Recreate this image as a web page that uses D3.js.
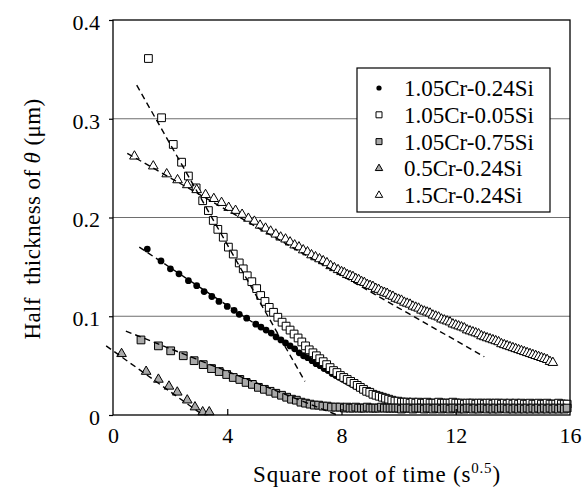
<!DOCTYPE html>
<html>
<head>
<meta charset="utf-8">
<script src="https://cdn.jsdelivr.net/npm/d3@7"></script>
<style>
  body { margin: 0; background: #fff; }
  svg { display: block; }
  text { font-family: "Liberation Serif", "Times New Roman", serif; fill: #000; }
</style>
</head>
<body>
<svg id="chart" width="588" height="493"></svg>
<script>
// ---- data: half thickness of cementite (µm) vs square root of time (s^0.5) ----
const xTickValues = [0, 4, 8, 12, 16];
const yTickValues = [0, 0.1, 0.2, 0.3, 0.4];
const yTickLabels = ["0", "0.1", "0.2", "0.3", "0.4"];
const gridValues = [0.1, 0.2, 0.3];

const seriesNames = ["1.05Cr-0.24Si", "1.05Cr-0.05Si", "1.05Cr-0.75Si", "0.5Cr-0.24Si", "1.5Cr-0.24Si"];

// 1.05Cr-0.24Si
const cr105si024 = [
  [1.20,0.168],[1.68,0.156],[2.01,0.148],[2.31,0.143],[2.64,0.136],[2.93,0.131],[3.19,0.125],[3.46,0.120],
  [3.71,0.115],[4.00,0.110],[4.24,0.106],[4.42,0.102],[4.68,0.098],[5.00,0.092],[5.18,0.089],[5.36,0.086],
  [5.54,0.083],[5.71,0.079],[5.88,0.076],[6.04,0.073],[6.20,0.070],[6.36,0.067],[6.52,0.063],[6.67,0.060],
  [6.82,0.058],[6.97,0.055],[7.11,0.052],[7.25,0.050],[7.39,0.047],[7.53,0.045],[7.67,0.042],[7.80,0.040],
  [7.93,0.038],[8.06,0.036],[8.19,0.034],[8.32,0.032],[8.45,0.030],[8.57,0.028],[8.69,0.026],[8.81,0.025],
  [8.93,0.023],[9.05,0.022],[9.17,0.020],[9.29,0.019],[9.41,0.018],[9.53,0.017],[9.65,0.016],[9.77,0.015],
  [9.89,0.015],[10.0,0.014],[10.1,0.014],[10.2,0.014],[10.3,0.013],[10.4,0.014],[10.5,0.013],[10.6,0.013],
  [10.7,0.013],[10.8,0.013],[10.9,0.012],[11.0,0.013],[11.1,0.013],[11.2,0.012],[11.3,0.013],[11.4,0.012],
  [11.5,0.012],[11.6,0.013],[11.7,0.012],[11.8,0.012],[11.9,0.012],[12.0,0.012],[12.1,0.013],[12.2,0.012],
  [12.3,0.012],[12.4,0.012],[12.5,0.011],[12.6,0.012],[12.7,0.012],[12.8,0.012],[12.9,0.011],[13.0,0.012],
  [13.1,0.012],[13.2,0.011],[13.3,0.012],[13.4,0.012],[13.5,0.011],[13.6,0.012],[13.7,0.011],[13.8,0.012],
  [13.9,0.011],[14.0,0.012],[14.1,0.011],[14.2,0.012],[14.3,0.011],[14.4,0.011],[14.5,0.012],[14.6,0.011],
  [14.7,0.011],[14.8,0.012],[14.9,0.011],[15.0,0.011],[15.1,0.012],[15.2,0.011],[15.3,0.011],[15.4,0.011],
  [15.5,0.012],[15.6,0.011],[15.7,0.011],[15.8,0.012],[15.9,0.010]
];

// 1.05Cr-0.05Si
const cr105si005 = [
  [1.24,0.361],[1.70,0.301],[2.11,0.274],[2.40,0.256],[2.64,0.242],[2.91,0.230],[3.14,0.217],[3.34,0.207],
  [3.51,0.197],[3.67,0.188],[3.86,0.180],[4.04,0.170],[4.21,0.163],[4.42,0.154],[4.56,0.148],[4.70,0.141],
  [4.86,0.135],[5.03,0.128],[5.17,0.121],[5.32,0.115],[5.47,0.109],[5.62,0.104],[5.77,0.099],[5.92,0.094],
  [6.06,0.090],[6.20,0.086],[6.34,0.082],[6.48,0.078],[6.61,0.074],[6.74,0.070],[6.87,0.066],[7.00,0.063],
  [7.12,0.060],[7.24,0.057],[7.36,0.054],[7.48,0.051],[7.60,0.048],[7.72,0.045],[7.84,0.043],[7.96,0.040],
  [8.08,0.038],[8.20,0.036],[8.32,0.034],[8.44,0.032],[8.55,0.030],[8.66,0.028],[8.77,0.026],[8.88,0.024],
  [8.99,0.023],[9.10,0.021],[9.21,0.020],[9.32,0.019],[9.43,0.018],[9.54,0.017],[9.65,0.016],[9.76,0.015],
  [9.87,0.014],[9.98,0.014],[10.1,0.013],[10.2,0.013],[10.3,0.013],[10.4,0.012],[10.5,0.013],[10.6,0.012],
  [10.7,0.013],[10.8,0.012],[10.9,0.012],[11.0,0.013],[11.1,0.012],[11.2,0.012],[11.3,0.012],[11.4,0.013],
  [11.5,0.012],[11.6,0.012],[11.7,0.012],[11.8,0.012],[11.9,0.013],[12.0,0.012],[12.1,0.012],[12.2,0.012],
  [12.3,0.011],[12.4,0.012],[12.5,0.012],[12.6,0.012],[12.7,0.011],[12.8,0.012],[12.9,0.012],[13.0,0.011],
  [13.1,0.012],[13.2,0.012],[13.3,0.011],[13.4,0.012],[13.5,0.012],[13.6,0.011],[13.7,0.012],[13.8,0.011],
  [13.9,0.012],[14.0,0.011],[14.1,0.012],[14.2,0.011],[14.3,0.012],[14.4,0.011],[14.5,0.011],[14.6,0.012],
  [14.7,0.011],[14.8,0.011],[14.9,0.012],[15.0,0.011],[15.1,0.011],[15.2,0.012],[15.3,0.011],[15.4,0.011],
  [15.5,0.011],[15.6,0.012],[15.7,0.011],[15.8,0.011],[15.9,0.011]
];

// 1.05Cr-0.75Si
const cr105si075 = [
  [0.98,0.076],[1.59,0.070],[2.02,0.065],[2.46,0.060],[2.84,0.055],[3.16,0.051],[3.45,0.047],[3.72,0.044],
  [3.98,0.041],[4.21,0.038],[4.44,0.036],[4.66,0.033],[4.88,0.031],[5.09,0.028],[5.30,0.026],[5.50,0.024],
  [5.70,0.022],[5.90,0.020],[6.08,0.018],[6.25,0.016],[6.42,0.015],[6.58,0.013],[6.74,0.012],[6.90,0.011],
  [7.05,0.010],[7.20,0.010],[7.35,0.009],[7.50,0.009],[7.65,0.008],[7.80,0.008],[7.95,0.008],[8.1,0.007],
  [8.2,0.008],[8.3,0.007],[8.4,0.007],[8.5,0.008],[8.6,0.007],[8.7,0.007],[8.8,0.007],[8.9,0.008],
  [9.0,0.007],[9.1,0.007],[9.2,0.007],[9.3,0.007],[9.4,0.008],[9.5,0.007],[9.6,0.007],[9.7,0.007],
  [9.8,0.007],[9.9,0.007],[10.0,0.007],[10.1,0.006],[10.2,0.007],[10.3,0.007],[10.4,0.007],[10.5,0.006],
  [10.6,0.007],[10.7,0.007],[10.8,0.007],[10.9,0.006],[11.0,0.007],[11.1,0.007],[11.2,0.006],[11.3,0.007],
  [11.4,0.007],[11.5,0.006],[11.6,0.007],[11.7,0.007],[11.8,0.006],[11.9,0.007],[12.0,0.007],[12.1,0.006],
  [12.2,0.007],[12.3,0.006],[12.4,0.007],[12.5,0.007],[12.6,0.006],[12.7,0.007],[12.8,0.006],[12.9,0.007],
  [13.0,0.007],[13.1,0.006],[13.2,0.007],[13.3,0.006],[13.4,0.007],[13.5,0.006],[13.6,0.007],[13.7,0.007],
  [13.8,0.006],[13.9,0.007],[14.0,0.006],[14.1,0.007],[14.2,0.006],[14.3,0.007],[14.4,0.006],[14.5,0.007],
  [14.6,0.006],[14.7,0.007],[14.8,0.006],[14.9,0.007],[15.0,0.006],[15.1,0.007],[15.2,0.006],[15.3,0.007],
  [15.4,0.006],[15.5,0.007],[15.6,0.006],[15.7,0.007],[15.8,0.006],[15.9,0.007]
];

// 0.5Cr-0.24Si
const cr050si024 = [
  [0.30,0.062],[1.16,0.044],[1.59,0.036],[1.96,0.029],[2.25,0.023],[2.60,0.015],[2.87,0.008],[3.14,0.003],[3.37,0.003]
];

// 1.5Cr-0.24Si
const cr150si024 = [
  [0.75,0.262],[1.41,0.252],[1.88,0.244],[2.26,0.238],[2.60,0.233],[2.93,0.228],[3.24,0.223],[3.53,0.219],
  [3.80,0.215],[4.05,0.210],[4.29,0.207],[4.52,0.203],[4.74,0.199],[4.95,0.196],[5.15,0.192],[5.34,0.189],
  [5.52,0.186],[5.70,0.183],[5.87,0.180],[6.04,0.178],[6.20,0.175],[6.36,0.172],[6.51,0.170],[6.66,0.167],
  [6.81,0.165],[6.95,0.162],[7.09,0.160],[7.23,0.158],[7.36,0.156],[7.49,0.154],[7.62,0.151],[7.75,0.149],
  [7.88,0.147],[8.00,0.145],[8.1,0.144],[8.2,0.142],[8.3,0.141],[8.4,0.140],[8.5,0.138],[8.6,0.137],
  [8.7,0.135],[8.8,0.134],[8.9,0.132],[9.0,0.131],[9.1,0.130],[9.2,0.128],[9.3,0.127],[9.4,0.125],
  [9.5,0.124],[9.6,0.123],[9.7,0.121],[9.8,0.120],[9.9,0.118],[10.0,0.117],[10.1,0.116],[10.2,0.114],
  [10.3,0.113],[10.4,0.112],[10.5,0.110],[10.6,0.109],[10.7,0.108],[10.8,0.106],[10.9,0.105],[11.0,0.104],
  [11.1,0.103],[11.2,0.101],[11.3,0.100],[11.4,0.099],[11.5,0.097],[11.6,0.096],[11.7,0.095],[11.8,0.094],
  [11.9,0.092],[12.0,0.091],[12.1,0.090],[12.2,0.089],[12.3,0.088],[12.4,0.086],[12.5,0.085],[12.6,0.084],
  [12.7,0.083],[12.8,0.082],[12.9,0.080],[13.0,0.079],[13.1,0.078],[13.2,0.077],[13.3,0.076],[13.4,0.075],
  [13.5,0.074],[13.6,0.072],[13.7,0.071],[13.8,0.070],[13.9,0.069],[14.0,0.068],[14.1,0.067],[14.2,0.066],
  [14.3,0.065],[14.4,0.064],[14.5,0.063],[14.6,0.062],[14.7,0.061],[14.8,0.060],[14.9,0.059],[15.0,0.058],
  [15.1,0.057],[15.2,0.056],[15.3,0.054],[15.4,0.053]
];

// linear fits of the initial stage (dashed)
const fitCr105si024 = [[0.92, 0.170], [5.30, 0.086]];
const fitCr105si005 = [[0.83, 0.334], [6.72, 0.034]];
const fitCr105si075 = [[0.45, 0.085], [7.85, 0.000]];
const fitCr050si024 = [[-0.24, 0.070], [3.05, 0.002]];
const fitCr150si024 = [[0.50, 0.265], [13.00, 0.059]];

// ---- layout ----
const svg = d3.select("#chart");
const x = d3.scaleLinear().domain([0, 16]).range([113, 570]);
const y = d3.scaleLinear().domain([0, 0.4]).range([415, 20]);
const gray = "#a9a9a9";

const styles = [
  { data: cr105si024, fit: fitCr105si024, type: d3.symbolCircle,   size: 36, fill: "#000",  stroke: "none" },
  { data: cr105si005, fit: fitCr105si005, type: d3.symbolSquare,   size: 60, fill: "#fff",  stroke: "#000" },
  { data: cr105si075, fit: fitCr105si075, type: d3.symbolSquare,   size: 60, fill: gray,    stroke: "#000" },
  { data: cr050si024, fit: fitCr050si024, type: d3.symbolTriangle, size: 40, fill: gray,    stroke: "#000" },
  { data: cr150si024, fit: fitCr150si024, type: d3.symbolTriangle, size: 40, fill: "#fff",  stroke: "#000" }
];

// horizontal grid
svg.append("g").selectAll("line").data(gridValues).join("line")
  .attr("x1", x(0)).attr("x2", x(16))
  .attr("y1", d => y(d)).attr("y2", d => y(d))
  .attr("stroke", "#6e6e6e").attr("stroke-width", 1.2);

// legend frame (drawn before marks, white fill hides grid behind it)
const legend = { x: 357, y: 68, w: 193, h: 144, row0: 88, rowStep: 26.8, symX: 379, textX: 404 };
svg.append("rect")
  .attr("x", legend.x).attr("y", legend.y).attr("width", legend.w).attr("height", legend.h)
  .attr("fill", "#fff").attr("stroke", "#000").attr("stroke-width", 1.2);

// markers
styles.forEach(s => {
  svg.append("g").selectAll("path").data(s.data).join("path")
    .attr("transform", d => `translate(${x(d[0])},${y(d[1])})`)
    .attr("d", d3.symbol().type(s.type).size(s.size))
    .attr("fill", s.fill)
    .attr("stroke", s.stroke)
    .attr("stroke-width", 1);
});

// dashed fit lines
const fitLine = d3.line().x(d => x(d[0])).y(d => y(d[1]));
styles.forEach(s => {
  svg.append("path").attr("d", fitLine(s.fit))
    .attr("fill", "none").attr("stroke", "#000")
    .attr("stroke-width", 1.4).attr("stroke-dasharray", "6,4");
});

// plot frame
svg.append("rect")
  .attr("x", x(0)).attr("y", y(0.4)).attr("width", x(16) - x(0)).attr("height", y(0) - y(0.4))
  .attr("fill", "none").attr("stroke", "#000").attr("stroke-width", 1.3);

// x axis ticks (inward) and labels
const xAxis = d3.axisBottom(x).tickValues(xTickValues).tickSizeInner(-6).tickSizeOuter(0).tickFormat(d3.format("d"));
const gx = svg.append("g").attr("transform", `translate(0,${y(0)})`).call(xAxis);
gx.select(".domain").remove();
gx.selectAll(".tick line").attr("stroke", "#000").attr("stroke-width", 1.2)
  .filter(d => d === 0 || d === 16).remove();
gx.selectAll(".tick text").attr("font-size", 22).attr("font-family", "Liberation Serif")
  .attr("y", 28).attr("dy", 0);

// y axis ticks (outward) and labels
const yAxis = d3.axisLeft(y).tickValues(yTickValues).tickSizeInner(4).tickSizeOuter(0)
  .tickFormat((d, i) => yTickLabels[i]);
const gy = svg.append("g").attr("transform", `translate(${x(0)},0)`).call(yAxis);
gy.select(".domain").remove();
gy.selectAll(".tick line").attr("stroke", "#000").attr("stroke-width", 1.2);
gy.selectAll(".tick text").attr("font-size", 22).attr("font-family", "Liberation Serif")
  .attr("x", -13).attr("dy", "0.42em");

// legend entries
seriesNames.forEach((name, i) => {
  const s = styles[i];
  const cy = legend.row0 + i * legend.rowStep;
  svg.append("path")
    .attr("transform", `translate(${legend.symX},${cy})`)
    .attr("d", d3.symbol().type(s.type).size(s.size * 0.6))
    .attr("fill", s.fill).attr("stroke", s.stroke).attr("stroke-width", 1);
  svg.append("text").attr("x", legend.textX).attr("y", cy).attr("dy", "0.35em")
    .attr("font-size", 23).text(name);
});

// axis titles
const xt = svg.append("text").attr("x", 377).attr("y", 482)
  .attr("text-anchor", "middle").attr("font-size", 23).attr("letter-spacing", 0.8);
xt.append("tspan").text("Square root of time (s");
xt.append("tspan").attr("font-size", 15).attr("dy", -9).text("0.5");
xt.append("tspan").attr("dy", 9).text(")");

const yt = svg.append("text").attr("transform", "translate(40,219) rotate(-90)")
  .attr("text-anchor", "middle").attr("font-size", 23).attr("letter-spacing", 0.4)
  .style("white-space", "pre");
yt.append("tspan").text("Half  thickness of ");
yt.append("tspan").attr("font-style", "italic").text("θ");
yt.append("tspan").text(" (μm)");
</script>
</body>
</html>
